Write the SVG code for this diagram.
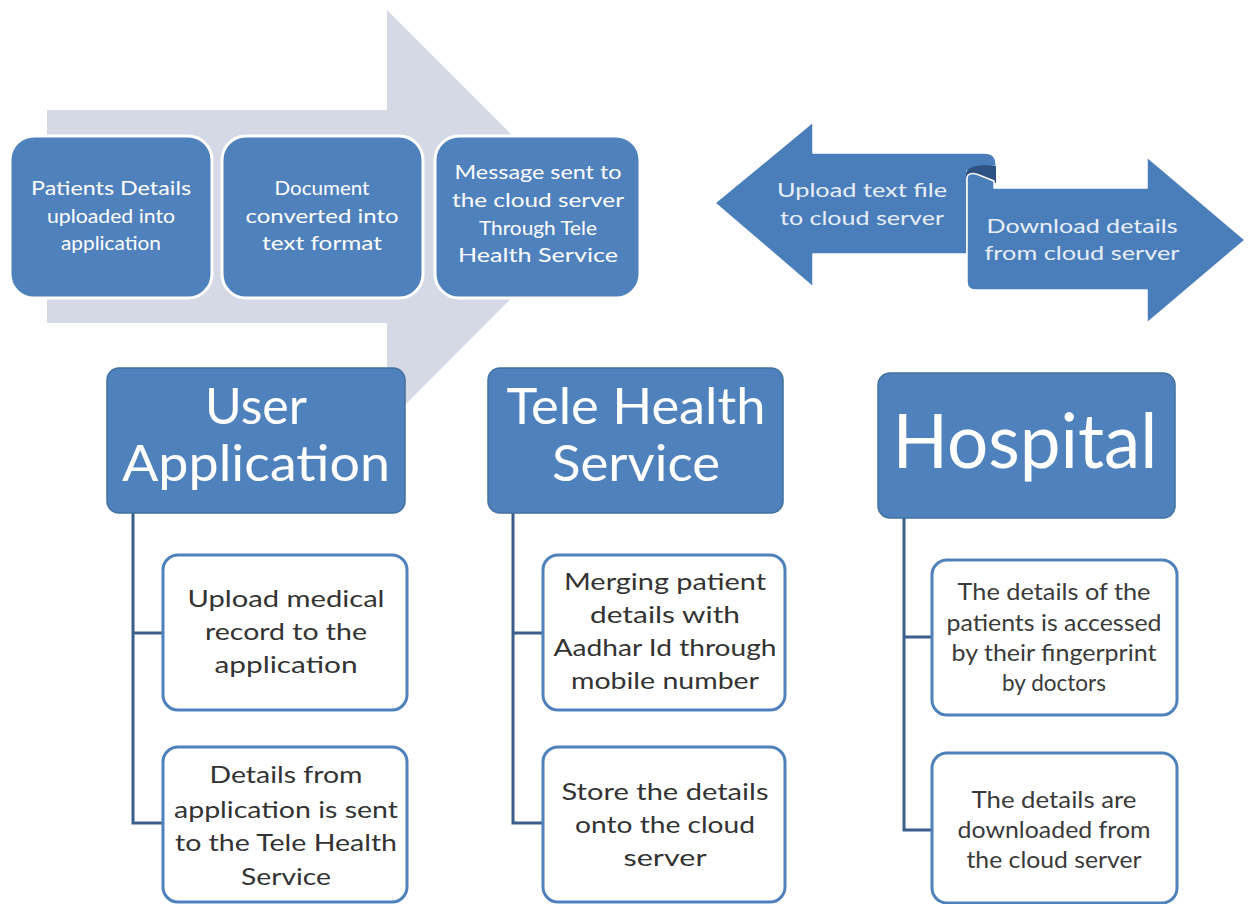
<svg xmlns="http://www.w3.org/2000/svg" width="1248" height="904" viewBox="0 0 1248 904">
  <style>
    text { font-family: Lato, "Open Sans", "Liberation Sans", sans-serif; text-anchor: middle; }
    .step { fill: #4f81bd; stroke: #ffffff; stroke-width: 3; }
    .step-t { fill: #ffffff; font-size: 19px; }
    .ribbon { fill: #4a7ebb; stroke: #ffffff; stroke-width: 1.5; stroke-linejoin: round; }
    .ribbon-t { fill: #e8eef8; font-size: 20px; }
    .head { fill: #4f81bd; stroke: #41719c; stroke-width: 1.5; }
    .head-t { fill: #ffffff; font-size: 50px; }
    .item { fill: #ffffff; stroke: #4f81bd; stroke-width: 3; }
    .item-t { fill: #333333; font-size: 23px; }
    .item-s { fill: #3a3a3a; font-size: 22.5px; }
    .link { fill: none; stroke: #3b5e8c; stroke-width: 3; }
  </style>

  <rect width="1248" height="904" fill="#ffffff"/>

  <!-- process arrow behind the three steps -->
  <path id="process-arrow" d="M47,110 L387,110 L387,10 L593,216 L387,423 L387,323 L47,323 Z" fill="#d5d9e5"/>

  <g id="step-1">
    <rect class="step" x="10" y="136" width="202" height="162" rx="24"/>
    <text class="step-t" x="111" y="195" textLength="160" lengthAdjust="spacingAndGlyphs">Patients Details</text>
    <text class="step-t" x="111" y="223" textLength="128" lengthAdjust="spacingAndGlyphs">uploaded into</text>
    <text class="step-t" x="111" y="250" textLength="100" lengthAdjust="spacingAndGlyphs">application</text>
  </g>
  <g id="step-2">
    <rect class="step" x="222" y="136" width="201" height="162" rx="24"/>
    <text class="step-t" x="322" y="195" textLength="95" lengthAdjust="spacingAndGlyphs">Document</text>
    <text class="step-t" x="322" y="223" textLength="153" lengthAdjust="spacingAndGlyphs">converted into</text>
    <text class="step-t" x="322" y="250" textLength="120" lengthAdjust="spacingAndGlyphs">text format</text>
  </g>
  <g id="step-3">
    <rect class="step" x="435" y="136" width="205" height="162" rx="24"/>
    <text class="step-t" x="538" y="179" textLength="167" lengthAdjust="spacingAndGlyphs">Message sent to</text>
    <text class="step-t" x="538" y="207" textLength="172" lengthAdjust="spacingAndGlyphs">the cloud server</text>
    <text class="step-t" x="538" y="235" textLength="118" lengthAdjust="spacingAndGlyphs">Through Tele</text>
    <text class="step-t" x="538" y="262" textLength="160" lengthAdjust="spacingAndGlyphs">Health Service</text>
  </g>

  <!-- left/right ribbon arrow -->
  <g id="upload-arrow">
    <path class="ribbon" d="M715,203 L813,122 L813,153 L984,153 C993,153 997,158 996,166 L967,171 L967,254 L813,254 L813,287 Z"/>
    <text class="ribbon-t" x="862" y="197" textLength="170" lengthAdjust="spacingAndGlyphs">Upload text file</text>
    <text class="ribbon-t" x="862" y="225" textLength="164" lengthAdjust="spacingAndGlyphs">to cloud server</text>
  </g>
  <path id="ribbon-fold" d="M966,174 C966,166 981,164 996,166 L996,183 C985,180 972,181 966,178 Z" fill="#2e5283"/>
  <g id="download-arrow">
    <path class="ribbon" d="M967,282 L967,178 C967,174 972,172 979,175 L994,181 L994,188 L1147,188 L1147,157 L1245,240 L1147,323 L1147,290 L975,290 Q967,290 967,282 Z"/>
    <text class="ribbon-t" x="1082" y="233" textLength="191" lengthAdjust="spacingAndGlyphs">Download details</text>
    <text class="ribbon-t" x="1082" y="260" textLength="195" lengthAdjust="spacingAndGlyphs">from cloud server</text>
  </g>

  <!-- tree connectors -->
  <g id="connectors">
    <path class="link" d="M133,513 L133,823 L163,823 M133,633 L163,633"/>
    <path class="link" d="M513,513 L513,823 L543,823 M513,633 L543,633"/>
    <path class="link" d="M904,518 L904,830 L932,830 M904,637 L932,637"/>
  </g>

  <g id="user-application">
    <rect class="head" x="107" y="368" width="298" height="145" rx="12"/>
    <text class="head-t" x="256" y="424">User</text>
    <text class="head-t" x="256" y="481" textLength="268" lengthAdjust="spacingAndGlyphs">Application</text>
  </g>
  <g id="ua-upload">
    <rect class="item" x="163" y="555" width="244" height="155" rx="15"/>
    <text class="item-t" x="286" y="607" textLength="197" lengthAdjust="spacingAndGlyphs">Upload medical</text>
    <text class="item-t" x="286" y="640" textLength="162" lengthAdjust="spacingAndGlyphs">record to the</text>
    <text class="item-t" x="286" y="673" textLength="143" lengthAdjust="spacingAndGlyphs">application</text>
  </g>
  <g id="ua-send">
    <rect class="item" x="163" y="747" width="244" height="155" rx="15"/>
    <text class="item-t" x="286" y="783" textLength="153" lengthAdjust="spacingAndGlyphs">Details from</text>
    <text class="item-t" x="286" y="818" textLength="224" lengthAdjust="spacingAndGlyphs">application is sent</text>
    <text class="item-t" x="286" y="851" textLength="222" lengthAdjust="spacingAndGlyphs">to the Tele Health</text>
    <text class="item-t" x="286" y="885" textLength="90" lengthAdjust="spacingAndGlyphs">Service</text>
  </g>

  <g id="tele-health-service">
    <rect class="head" x="488" y="368" width="295" height="145" rx="12"/>
    <text class="head-t" x="636" y="424" textLength="259" lengthAdjust="spacingAndGlyphs">Tele Health</text>
    <text class="head-t" x="636" y="481" textLength="168" lengthAdjust="spacingAndGlyphs">Service</text>
  </g>
  <g id="ths-merge">
    <rect class="item" x="543" y="555" width="242" height="155" rx="15"/>
    <text class="item-t" x="665" y="590" textLength="202" lengthAdjust="spacingAndGlyphs">Merging patient</text>
    <text class="item-t" x="665" y="623" textLength="150" lengthAdjust="spacingAndGlyphs">details with</text>
    <text class="item-t" x="665" y="656" textLength="223" lengthAdjust="spacingAndGlyphs">Aadhar Id through</text>
    <text class="item-t" x="665" y="689" textLength="188" lengthAdjust="spacingAndGlyphs">mobile number</text>
  </g>
  <g id="ths-store">
    <rect class="item" x="543" y="747" width="242" height="155" rx="15"/>
    <text class="item-t" x="665" y="800" textLength="207" lengthAdjust="spacingAndGlyphs">Store the details</text>
    <text class="item-t" x="665" y="833" textLength="180" lengthAdjust="spacingAndGlyphs">onto the cloud</text>
    <text class="item-t" x="665" y="866" textLength="83" lengthAdjust="spacingAndGlyphs">server</text>
  </g>

  <g id="hospital">
    <rect class="head" x="878" y="373" width="297" height="145" rx="12"/>
    <text class="head-t" x="1025" y="468" style="font-size:76px" textLength="265" lengthAdjust="spacingAndGlyphs">Hospital</text>
  </g>
  <g id="hosp-access">
    <rect class="item" x="932" y="560" width="245" height="155" rx="15"/>
    <text class="item-s" x="1054" y="600" textLength="193" lengthAdjust="spacingAndGlyphs">The details of the</text>
    <text class="item-s" x="1054" y="631" textLength="215" lengthAdjust="spacingAndGlyphs">patients is accessed</text>
    <text class="item-s" x="1054" y="661" textLength="205" lengthAdjust="spacingAndGlyphs">by their fingerprint</text>
    <text class="item-s" x="1054" y="691">by doctors</text>
  </g>
  <g id="hosp-download">
    <rect class="item" x="932" y="753" width="245" height="150" rx="15"/>
    <text class="item-s" x="1054" y="808" textLength="165" lengthAdjust="spacingAndGlyphs">The details are</text>
    <text class="item-s" x="1054" y="838" textLength="193" lengthAdjust="spacingAndGlyphs">downloaded from</text>
    <text class="item-s" x="1054" y="868" textLength="175" lengthAdjust="spacingAndGlyphs">the cloud server</text>
  </g>
</svg>
